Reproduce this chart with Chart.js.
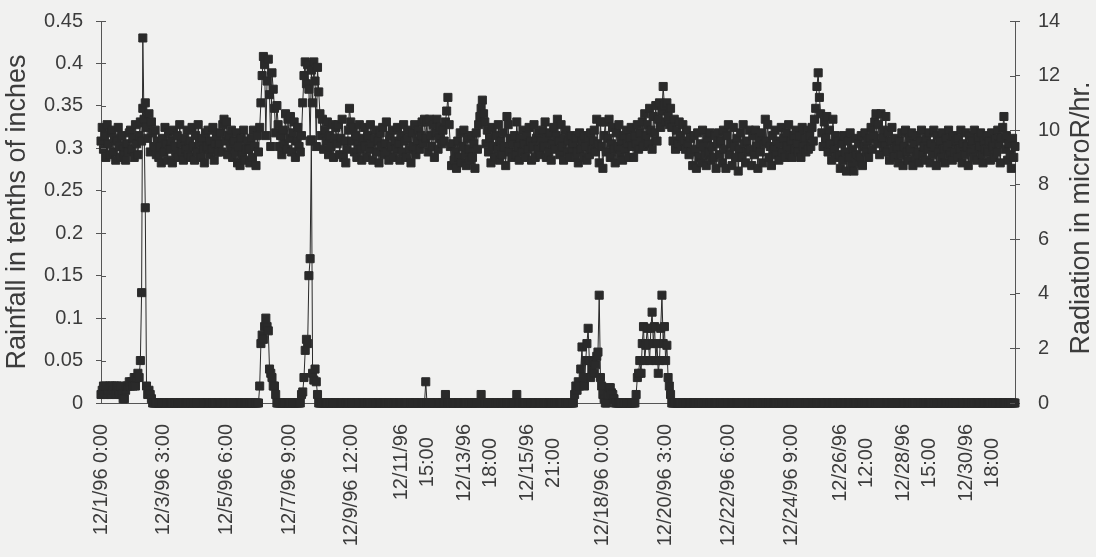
<!DOCTYPE html>
<html>
<head>
<meta charset="utf-8">
<script src="https://cdn.jsdelivr.net/npm/chart.js@4.4.1/dist/chart.umd.min.js"></script>
<style>
  html, body { margin: 0; padding: 0; background: #f1f1f0; }
  #wrap { width: 1096px; height: 557px; }
</style>
</head>
<body>
<div id="wrap"><canvas id="mainChart" width="1096" height="557"></canvas></div>
<script>
// hourly readings, December 1996 (one line per day, 0:00 .. 23:00)
const rainfall = [
  0.01,0.015,0.02,0.01,0.02,0.01, 0.015,0.02,0.01,0.02,0.015,0.02, 0.01,0.02,0.015,0.01,0.02,0.01, 0.005,0.005,0.015,0.02,0.02,0.025, // 12/1
  0.02,0.025,0.02,0.03,0.02,0.03, 0.035,0.03,0.05,0.13,0.43,0.33, 0.23,0.02,0.01,0.015,0.01,0.005, 0,0,0,0,0,0, // 12/2
  0,0,0,0,0,0, 0,0,0,0,0,0, 0,0,0,0,0,0, 0,0,0,0,0,0, // 12/3
  0,0,0,0,0,0, 0,0,0,0,0,0, 0,0,0,0,0,0, 0,0,0,0,0,0, // 12/4
  0,0,0,0,0,0, 0,0,0,0,0,0, 0,0,0,0,0,0, 0,0,0,0,0,0, // 12/5
  0,0,0,0,0,0, 0,0,0,0.02,0.07,0.08, 0.075,0.09,0.10,0.09,0.085,0.04, 0.035,0.03,0.02,0.02,0.01,0, // 12/6
  0,0,0,0,0,0, 0,0,0,0,0,0, 0,0,0,0,0,0, 0,0.01,0.013,0.03,0.062,0.075, // 12/7
  0.07,0.15,0.17,0.31,0.035,0.027, 0.04,0.025,0.01,0,0,0, 0,0,0,0,0,0, 0,0,0,0,0,0, // 12/8
  0,0,0,0,0,0, 0,0,0,0,0,0, 0,0,0,0,0,0, 0,0,0,0,0,0, // 12/9
  0,0,0,0,0,0, 0,0,0,0,0,0, 0,0,0,0,0,0, 0,0,0,0,0,0, // 12/10
  0,0,0,0,0,0, 0,0,0,0,0,0, 0,0,0,0,0,0, 0,0,0,0,0,0, // 12/11
  0.025,0,0,0,0,0, 0,0,0,0,0,0, 0,0,0,0,0.01,0, 0,0,0,0,0,0, // 12/12
  0,0,0,0,0,0, 0,0,0,0,0,0, 0,0,0,0,0,0, 0,0,0,0.01,0,0, // 12/13
  0,0,0,0,0,0, 0,0,0,0,0,0, 0,0,0,0,0,0, 0,0,0,0,0,0, // 12/14
  0,0,0.01,0,0,0, 0,0,0,0,0,0, 0,0,0,0,0,0, 0,0,0,0,0,0, // 12/15
  0,0,0,0,0,0, 0,0,0,0,0,0, 0,0,0,0,0,0, 0,0,0,0,0,0, // 12/16
  0,0.01,0.02,0.015,0.025,0.02, 0.04,0.066,0.03,0.02,0.05,0.07, 0.088,0.05,0.03,0.04,0.048,0.035, 0.045,0.055,0.06,0.127,0.03,0.02, // 12/17
  0.01,0.005,0,0,0.01,0.018, 0.018,0.012,0.01,0.005,0,0, 0,0,0,0,0,0, 0,0,0,0,0,0, // 12/18
  0,0,0,0.01,0.03,0.035, 0.05,0.035,0.07,0.09,0.05,0.068, 0.088,0.07,0.05,0.088,0.107,0.07, 0.09,0.05,0.07,0.035,0.05,0.088, // 12/19
  0.127,0.07,0.09,0.05,0.068,0.03, 0.02,0.01,0,0,0,0, 0,0,0,0,0,0, 0,0,0,0,0,0, // 12/20
  0,0,0,0,0,0, 0,0,0,0,0,0, 0,0,0,0,0,0, 0,0,0,0,0,0, // 12/21
  0,0,0,0,0,0, 0,0,0,0,0,0, 0,0,0,0,0,0, 0,0,0,0,0,0, // 12/22
  0,0,0,0,0,0, 0,0,0,0,0,0, 0,0,0,0,0,0, 0,0,0,0,0,0, // 12/23
  0,0,0,0,0,0, 0,0,0,0,0,0, 0,0,0,0,0,0, 0,0,0,0,0,0, // 12/24
  0,0,0,0,0,0, 0,0,0,0,0,0, 0,0,0,0,0,0, 0,0,0,0,0,0, // 12/25
  0,0,0,0,0,0, 0,0,0,0,0,0, 0,0,0,0,0,0, 0,0,0,0,0,0, // 12/26
  0,0,0,0,0,0, 0,0,0,0,0,0, 0,0,0,0,0,0, 0,0,0,0,0,0, // 12/27
  0,0,0,0,0,0, 0,0,0,0,0,0, 0,0,0,0,0,0, 0,0,0,0,0,0, // 12/28
  0,0,0,0,0,0, 0,0,0,0,0,0, 0,0,0,0,0,0, 0,0,0,0,0,0, // 12/29
  0,0,0,0,0,0, 0,0,0,0,0,0, 0,0,0,0,0,0, 0,0,0,0,0,0, // 12/30
  0,0,0,0,0,0, 0,0,0,0,0,0, 0,0,0,0,0,0, 0,0,0,0,0,0  // 12/31
];

const radiation = [
  9.6,10.1,9.3,9.8,9.0,10.2, 9.5,9.1,9.9,10.0,9.2,9.7, 8.9,9.6,10.1,9.4,9.0,9.8, 9.3,9.1,8.9,9.5,9.2,9.9, // 12/1
  10.0,9.3,9.7,9.0,10.2,9.5, 9.1,9.8,10.3,9.6,10.8,10.4, 11.0,10.1,9.7,10.6,9.2,10.3, 9.9,9.4,10.0,9.1,9.6,9.0, // 12/2
  9.4,8.8,9.7,9.2,10.1,9.5, 8.9,9.9,9.3,9.6,8.8,10.0, 9.4,9.1,9.8,9.0,10.2,9.5, 9.2,8.9,9.7,9.3,10.0,9.1, // 12/3
  9.6,9.0,10.1,9.4,8.9,9.8, 9.2,10.2,9.5,9.0,9.7,9.3, 8.8,9.9,9.4,10.0,9.1,9.6, 9.3,10.1,8.9,9.5,9.8,9.2, // 12/4
  9.5,9.9,9.2,10.2,10.4,9.6, 10.3,9.1,9.8,9.4,10.0,9.0, 9.6,9.2,9.9,8.8,9.4,8.7, 9.7,9.1,10.0,8.9,9.3,9.6, // 12/5
  9.3,8.8,9.7,9.0,10.0,9.4, 8.7,9.8,9.2,10.1,11.0,12.0, 12.7,12.4,9.8,11.8,12.6,11.3, 9.4,12.1,11.5,10.8,9.9,10.9, // 12/6
  10.2,9.4,9.8,9.1,10.0,9.5, 10.6,9.3,10.4,9.7,10.5,9.2, 9.9,10.3,9.0,9.6,10.1,9.4, 9.2,9.8,11.0,12.0,12.5,11.7, // 12/7
  12.4,11.5,9.6,12.2,11.0,12.5, 11.8,9.4,12.3,11.4,10.6,9.8, 10.4,9.3,10.0,9.6,10.3,9.1, 9.8,9.4,10.2,9.0,9.7,10.1, // 12/8
  9.5,10.2,9.1,9.7,10.4,9.0, 9.6,8.8,9.3,10.0,10.8,10.3, 9.6,10.1,9.2,9.8,9.0,9.5, 10.2,9.3,8.9,9.7,10.1,9.4, // 12/9
  9.0,9.8,9.3,10.2,9.5,8.9, 9.7,10.0,9.2,9.6,8.8,9.9, 9.4,10.1,9.1,9.5,10.3,9.2, 8.9,9.8,9.4,10.0,9.0,9.6, // 12/10
  9.3,10.1,9.5,8.9,9.8,9.2, 10.2,9.6,9.0,9.7,10.0,9.3, 8.8,9.9,9.4,10.2,9.1,9.6, 10.0,9.3,9.8,10.3,9.5,10.4, // 12/11
  9.7,10.3,9.2,10.4,9.8,9.4, 10.2,9.0,9.9,10.4,9.3,9.7, 10.1,9.5,10.0,9.6,10.3,10.7, 11.2,10.2,9.4,8.7,9.5,8.9, // 12/12
  9.2,8.6,9.6,9.0,9.9,8.8, 9.4,10.0,9.1,8.7,9.7,9.3, 8.9,9.8,9.0,9.5,8.6,9.9, 9.3,10.2,10.5,10.8,11.1,10.6, // 12/13
  10.3,9.5,10.0,9.2,9.7,8.8, 10.1,9.4,9.0,9.8,9.3,10.2, 8.9,9.6,9.1,9.9,9.4,8.7, 10.5,10.2,9.2,9.7,9.0,9.5, // 12/14
  9.8,9.1,10.3,9.4,8.9,9.7, 9.2,10.0,9.5,9.0,9.8,9.3, 10.1,9.6,8.9,9.4,10.2,9.0, 9.7,9.3,9.9,9.1,9.6,10.0, // 12/15
  9.4,10.3,9.0,9.7,9.2,9.9, 8.9,9.5,10.1,9.3,9.8,10.4, 9.6,9.1,10.2,9.4,8.9,9.7, 10.0,9.2,9.6,9.0,9.8,9.3, // 12/16
  9.5,9.0,9.7,9.2,8.8,9.9, 9.3,9.6,9.0,9.8,9.4,8.9, 9.7,9.1,9.9,9.3,9.6,10.0, 9.2,10.4,9.5,8.8,10.3,9.4, // 12/17
  8.6,9.8,10.3,9.2,9.7,10.4, 9.0,9.5,10.1,9.3,8.8,9.9, 9.4,10.2,9.1,9.6,8.9,9.8, 9.3,10.0,9.5,9.0,9.7,10.1, // 12/18
  9.4,9.0,9.8,9.5,10.2,9.3, 9.9,9.6,10.3,9.4,10.6,9.8, 10.2,9.5,10.8,10.0,9.3,10.5, 9.9,10.9,9.6,10.4,11.0,10.1, // 12/19
  10.7,11.6,10.9,10.3,11.0,10.5, 10.2,10.8,10.1,9.6,10.4,9.3, 10.0,9.5,10.3,9.8,9.4,10.2, 9.6,9.3,10.0,9.5,9.1,9.7, // 12/20
  9.2,8.7,9.8,9.3,8.6,9.9, 9.0,9.5,8.8,10.0,9.4,9.1, 8.7,9.7,9.2,9.9,8.9,9.4, 9.0,9.8,8.6,9.5,9.9,9.1, // 12/21
  9.6,8.8,10.0,9.3,8.6,9.8, 10.2,9.1,9.5,8.7,10.1,9.4, 9.0,9.7,8.5,9.3,9.9,9.0, 10.2,9.5,8.8,9.6,9.2,10.0, // 12/22
  9.3,8.7,9.8,9.1,10.0,9.4, 8.6,9.7,9.2,9.9,8.8,9.5, 10.4,9.6,10.2,9.0,9.4,8.7, 9.8,9.3,10.0,9.1,9.6,8.9, // 12/23
  9.5,10.1,9.2,9.7,9.0,9.9, 9.4,10.2,9.1,9.6,9.0,9.8, 9.3,10.0,9.5,9.2,9.8,9.0, 10.1,9.4,9.7,9.2,10.0,9.3, // 12/24
  9.8,9.4,10.1,9.6,10.4,10.8, 11.6,12.1,11.2,10.6,9.9,9.4, 10.3,9.7,10.5,9.2,10.0,9.5, 8.9,10.4,9.3,9.8,9.0,9.6, // 12/25
  9.1,8.6,9.5,8.9,9.8,9.2, 8.5,9.6,9.0,9.9,8.7,9.3, 8.5,9.7,9.1,8.8,9.5,9.0, 9.8,8.7,9.4,9.9,9.2,9.6, // 12/26
  9.0,9.7,10.1,9.3,9.8,10.3, 10.6,9.5,10.2,9.1,10.6,9.7, 10.0,9.4,10.5,9.2,9.9,8.9, 9.6,10.1,9.3,9.0,9.7,9.4, // 12/27
  8.8,9.6,9.1,9.9,8.7,9.4, 10.0,9.2,8.9,9.7,9.3,9.9, 8.7,9.5,9.0,9.8,9.2,8.8, 9.6,10.0,9.1,9.4,8.9,9.7, // 12/28
  9.3,9.9,8.8,9.5,9.1,10.0, 9.4,8.7,9.8,9.2,9.6,9.0, 9.9,9.3,8.8,9.7,9.4,10.0, 9.1,9.5,8.9,9.8,9.2,9.6, // 12/29
  9.0,9.7,9.3,10.0,8.8,9.5, 9.1,9.9,9.4,8.7,9.8,9.2, 9.6,9.0,10.0,9.3,8.9,9.7, 9.4,9.9,9.1,8.8,9.6,9.3, // 12/30
  9.8,9.2,9.6,8.9,9.9,9.4, 9.0,9.7,9.2,10.0,9.5,8.8, 9.7,10.1,10.5,9.3,9.8,8.9, 9.5,9.1,8.6,9.7,9.0,9.4  // 12/31
];

// labels shown on the category axis (one every 51 hours)
const tickLabels = [
  '12/1/96 0:00', '12/3/96 3:00', '12/5/96 6:00', '12/7/96 9:00', '12/9/96 12:00',
  ['12/11/96', '15:00'], ['12/13/96', '18:00'], ['12/15/96', '21:00'],
  '12/18/96 0:00', '12/20/96 3:00', '12/22/96 6:00', '12/24/96 9:00',
  ['12/26/96', '12:00'], ['12/28/96', '15:00'], ['12/30/96', '18:00']
];
const tickEvery = 51;

const categories = [];
for (let d = 1; d <= 31; d++) {
    for (let h = 0; h < 24; h++) categories.push('12/' + d + '/96 ' + h + ':00');
}

const ink = '#2a2a2a';
const textCol = '#3c3c3c';
const family = 'Liberation Sans, Arial, sans-serif';
const tickFont = { family: family, size: 20 };
const titleFont = { family: family, size: 27 };

// fond, libellés de l'axe des x, petites graduations intérieures et titre de droite
const paperPlugin = {
    id: 'paper',
    beforeDraw(chart) {
        const c = chart.ctx;
        c.save();
        c.fillStyle = '#f1f1f0';
        c.fillRect(0, 0, chart.width, chart.height);
        c.restore();
    },
    afterDraw(chart) {
        const c = chart.ctx;
        const a = chart.chartArea;
        const xs = chart.scales.x;

        // inner half of the cross-shaped tick marks
        c.save();
        c.strokeStyle = '#555';
        c.lineWidth = 1;
        ['y', 'y1'].forEach(id => {
            const s = chart.scales[id];
            const x0 = id === 'y' ? a.left : a.right;
            const dir = id === 'y' ? 1 : -1;
            s.ticks.forEach(t => {
                const py = Math.round(s.getPixelForValue(t.value)) + 0.5;
                c.beginPath();
                c.moveTo(x0, py);
                c.lineTo(x0 + dir * 5, py);
                c.stroke();
            });
        });
        c.restore();

        // x labels, rotated, reading bottom to top
        c.save();
        c.fillStyle = textCol;
        c.font = tickFont.size + 'px ' + family;
        c.textBaseline = 'middle';
        const yTop = 424;
        tickLabels.forEach((lab, k) => {
            const px = xs.getPixelForValue(k * tickEvery);
            const lines = Array.isArray(lab) ? lab : [lab];
            if (lines.length === 1) {
                c.save();
                c.translate(px, yTop);
                c.rotate(-Math.PI / 2);
                c.textAlign = 'right';
                c.fillText(lines[0], 0, 0);
                c.restore();
            } else {
                const w = Math.max(...lines.map(l => c.measureText(l).width));
                const lh = 26;
                lines.forEach((l, j) => {
                    const off = (j - (lines.length - 1) / 2) * lh;
                    c.save();
                    c.translate(px + off, yTop);
                    c.rotate(-Math.PI / 2);
                    c.textAlign = 'center';
                    c.fillText(l, -w / 2, 0);
                    c.restore();
                });
            }
        });
        c.restore();

        // right axis title
        c.save();
        c.translate(1082, (a.top + a.bottom) / 2 + 6);
        c.rotate(-Math.PI / 2);
        c.fillStyle = textCol;
        c.font = titleFont.size + 'px ' + family;
        c.textAlign = 'center';
        c.textBaseline = 'middle';
        c.fillText('Radiation in microR/hr.', 0, 0);
        c.restore();
    }
};

const ctx = document.getElementById('mainChart').getContext('2d');
new Chart(ctx, {
    type: 'line',
    data: {
        labels: categories,
        datasets: [
            {
                label: 'Radiation',
                data: radiation,
                yAxisID: 'y1',
                borderColor: ink,
                borderWidth: 1,
                pointStyle: 'rect',
                pointRadius: 5.7,
                pointBorderWidth: 1,
                pointBackgroundColor: ink,
                pointBorderColor: ink,
                tension: 0,
                clip: false
            },
            {
                label: 'Rainfall',
                data: rainfall,
                yAxisID: 'y',
                borderColor: ink,
                borderWidth: 1,
                pointStyle: 'rect',
                pointRadius: 5.7,
                pointBorderWidth: 1,
                pointBackgroundColor: ink,
                pointBorderColor: ink,
                tension: 0,
                clip: false
            }
        ]
    },
    options: {
        responsive: false,
        animation: false,
        events: [],
        layout: { padding: { top: 21, left: 0, right: 0, bottom: 0 } },
        plugins: { legend: { display: false }, tooltip: { enabled: false } },
        scales: {
            x: {
                type: 'category',
                offset: false,
                grid: { display: false },
                border: { display: true, color: '#555', width: 1 },
                ticks: { display: false, autoSkip: false },
                afterFit: s => { s.height = 557 - 403; s.paddingLeft = 0; s.paddingRight = 0; }
            },
            y: {
                position: 'left',
                min: 0,
                max: 0.45,
                grid: { drawOnChartArea: false, color: '#555', tickLength: 5 },
                border: { display: true, color: '#555', width: 1 },
                ticks: {
                    stepSize: 0.05,
                    padding: 13,
                    color: textCol,
                    font: tickFont,
                    callback: v => String(+v.toFixed(2))
                },
                title: {
                    display: true,
                    text: 'Rainfall in tenths of inches',
                    color: textCol,
                    font: titleFont,
                    padding: { top: 1, bottom: 0 }
                },
                afterFit: s => { s.width = 101; s.paddingTop = 0; s.paddingBottom = 0; }
            },
            y1: {
                position: 'right',
                min: 0,
                max: 14,
                grid: { drawOnChartArea: false, color: '#555', tickLength: 5 },
                border: { display: true, color: '#555', width: 1 },
                ticks: {
                    stepSize: 2,
                    padding: 18,
                    color: textCol,
                    font: tickFont
                },
                afterFit: s => { s.width = 1096 - 1015; s.paddingTop = 0; s.paddingBottom = 0; }
            }
        }
    },
    plugins: [paperPlugin]
});
</script>
</body>
</html>
